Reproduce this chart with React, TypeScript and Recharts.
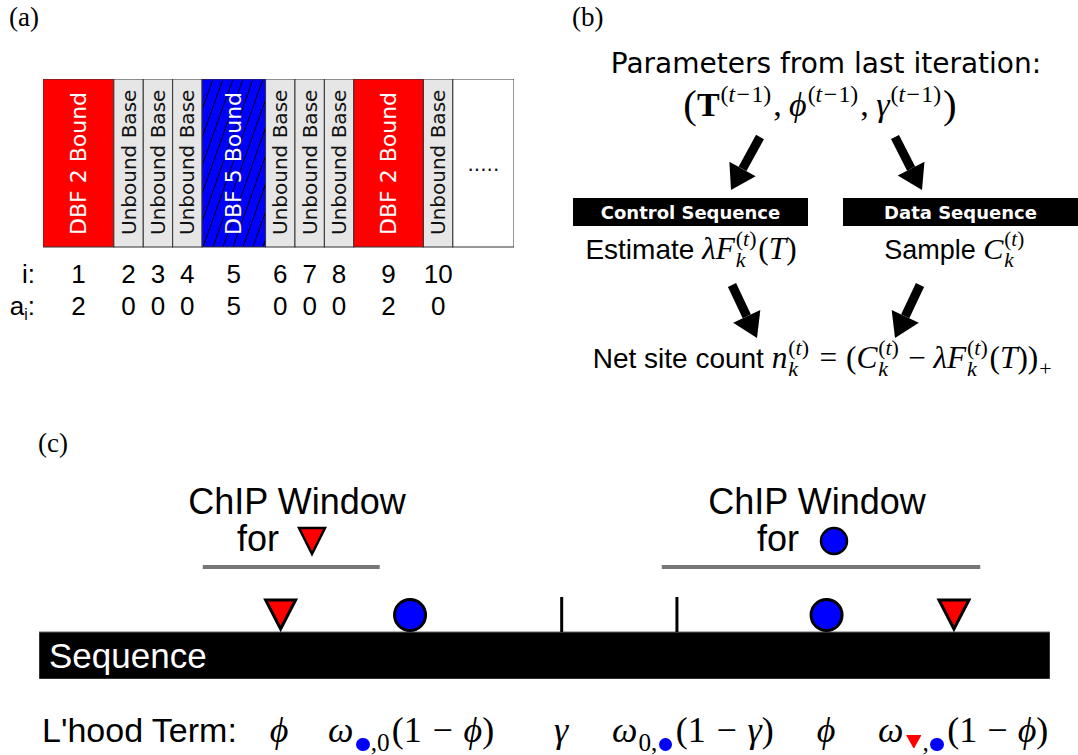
import React from "react";
import {
  BarChart,
  Bar,
  XAxis,
  YAxis,
  ScatterChart,
  Scatter,
  ReferenceArea,
  ReferenceLine,
} from "recharts";

const SANS = "'Liberation Sans', Arial, Helvetica, sans-serif";
const DEJAVU = "'DejaVu Sans', Verdana, sans-serif";
const SERIF = "'Liberation Serif', 'DejaVu Serif', 'Times New Roman', serif";

// (a) sequence strip, one segment per base (bound sites are wider)
const segmentKinds = ["dbf2", "unbound", "unbound", "unbound", "dbf5", "unbound", "unbound", "unbound", "dbf2", "unbound", "more"];
const segmentLabels = [
  "DBF 2 Bound", "Unbound Base", "Unbound Base", "Unbound Base", "DBF 5 Bound",
  "Unbound Base", "Unbound Base", "Unbound Base", "DBF 2 Bound", "Unbound Base", ".....",
];
const segmentWidths = [2.41, 1, 1, 1, 2.16, 1, 1, 1, 2.37, 1, 2.08];
const siteIndex = ["1", "2", "3", "4", "5", "6", "7", "8", "9", "10"];
const siteState = ["2", "0", "0", "0", "5", "0", "0", "0", "2", "0"];

// (b) flow arrows: tail and tip
const arrowTails = [[760, 137], [895, 137], [732, 285], [920, 285]];
const arrowTips = [[731, 190], [922, 190], [757, 338], [895, 338]];

// (c) positions along the sequence (0..1000)
const boundaryPositions = [517, 631];
const triangleSites = [239, 905];
const circleSites = [367, 779];
const chipWindows = [[162, 337], [616, 931]];

const segmentFill: Record<string, string> = {
  dbf2: "#ff0000",
  dbf5: "url(#hatch)",
  unbound: "#e6e6e6",
  more: "#ffffff",
};

const stripTotal = segmentWidths.reduce((a, b) => a + b, 0);
const stripRow: Record<string, any> = { name: "seq" };
segmentWidths.forEach((w, i) => (stripRow["s" + i] = w));
const siteCenters = siteIndex.map((_, i) => {
  const start = segmentWidths.slice(0, i).reduce((a, b) => a + b, 0);
  return start + segmentWidths[i] / 2;
});

function SegmentShape(props: any) {
  const { x, y, width, height, seg } = props;
  const kind = segmentKinds[seg];
  const cx = x + width / 2;
  const bound = kind === "dbf2" || kind === "dbf5";
  return (
    <g>
      <rect x={x} y={y} width={width} height={height} fill={segmentFill[kind]} stroke="#333" strokeWidth={1} />
      {kind === "more" ? (
        <text x={cx} y={y + height / 2 + 8} textAnchor="middle" fontFamily={DEJAVU} fontSize={20} fill="#111">
          {segmentLabels[seg]}
        </text>
      ) : (
        <text
          transform={`translate(${cx},${y + height - 12}) rotate(-90)`}
          dominantBaseline="central"
          fontFamily={DEJAVU}
          fontSize={bound ? 22 : 20}
          fill={bound ? "#fff" : "#111"}
        >
          {segmentLabels[seg]}
        </text>
      )}
    </g>
  );
}

function SiteTick(props: any) {
  const { x, y, payload } = props;
  const i = siteCenters.indexOf(payload.value);
  return (
    <g fontFamily={SANS} fontSize={26} fill="#000" textAnchor="middle">
      <text x={x} y={y + 36}>{siteIndex[i]}</text>
      <text x={x} y={y + 68}>{siteState[i]}</text>
    </g>
  );
}

function ArrowShape(props: any) {
  const { cx, cy, payload } = props;
  const { dx, dy } = payload;
  const len = Math.hypot(dx, dy);
  const ux = -dx / len;
  const uy = -dy / len;
  const px = -uy;
  const py = ux;
  const L = 24, W = 15, S = 4.5;
  const bx = cx - ux * L;
  const by = cy - uy * L;
  const tx = cx + dx;
  const ty = cy + dy;
  const shaft = [
    [tx + px * S, ty + py * S],
    [bx + px * S, by + py * S],
    [bx - px * S, by - py * S],
    [tx - px * S, ty - py * S],
  ];
  const head = [[bx + px * W, by + py * W], [cx, cy], [bx - px * W, by - py * W]];
  return (
    <g fill="#000">
      <polygon points={shaft.map((p) => p.join(",")).join(" ")} />
      <polygon points={head.map((p) => p.join(",")).join(" ")} />
    </g>
  );
}

function TriangleShape(props: any) {
  const { cx, cy } = props;
  return (
    <polygon
      points={`${cx - 15},${cy - 32} ${cx + 15},${cy - 32} ${cx},${cy - 3}`}
      fill="#ff0000"
      stroke="#000"
      strokeWidth={3}
    />
  );
}

function CircleShape(props: any) {
  const { cx, cy } = props;
  return <circle cx={cx} cy={cy - 17} r={15.5} fill="#0000ff" stroke="#000" strokeWidth={3} />;
}

// text helpers
function Txt({ x, y, size, font = SANS, align = "left", children, style }: any) {
  const shift = align === "center" ? "translateX(-50%)" : align === "right" ? "translateX(-100%)" : undefined;
  return (
    <div
      style={{
        position: "absolute",
        left: x,
        top: y - 0.845 * size,
        fontSize: size,
        fontFamily: font,
        lineHeight: 1,
        whiteSpace: "nowrap",
        transform: shift,
        color: "#000",
        ...style,
      }}
    >
      {children}
    </div>
  );
}

function Sc({ sup, sub }: { sup?: React.ReactNode; sub?: React.ReactNode }) {
  return (
    <span style={{ display: "inline-block", position: "relative", fontSize: "0.7em", lineHeight: 0, margin: "0 0.08em 0 0.04em" }}>
      {sup != null ? (
        <span style={{ position: "relative", top: "-0.6em" }}>{sup}</span>
      ) : (
        <span style={{ position: "relative", top: "0.37em" }}>{sub}</span>
      )}
      {sup != null && sub != null && (
        <span style={{ position: "absolute", left: 0, top: "0.37em", lineHeight: 0 }}>{sub}</span>
      )}
    </span>
  );
}

const M = ({ children }: any) => <span style={{ fontFamily: SERIF, fontSize: "1.12em" }}>{children}</span>;
const I = ({ children }: any) => <span style={{ fontStyle: "italic" }}>{children}</span>;
const Big = ({ children }: any) => (
  <span style={{ fontSize: "1.2em", lineHeight: 0, position: "relative", top: "0.04em" }}>{children}</span>
);
const Op = ({ children, w = 0.28 }: any) => <span style={{ margin: `0 ${w}em` }}>{children}</span>;
const Comma = () => <span style={{ marginRight: "0.22em" }}>,</span>;
const TM1 = () => (
  <>
    (<I>t</I>
    <span style={{ margin: "0 0.06em" }}>−</span>1)
  </>
);
const Tt = () => (
  <>
    (<I>t</I>)
  </>
);
const Dot = () => (
  <span
    style={{
      display: "inline-block",
      width: "0.55em",
      height: "0.55em",
      borderRadius: "50%",
      background: "#0000ff",
      verticalAlign: "-0.02em",
      margin: "0 0.05em",
    }}
  />
);
const Tri = () => (
  <svg width="0.62em" height="0.55em" viewBox="0 0 10 9" style={{ verticalAlign: "0.1em", margin: "0 0.05em" }}>
    <polygon points="0,0 10,0 5,9" fill="#ff0000" />
  </svg>
);

const PanelLabel = ({ x, y, text }: any) => (
  <Txt x={x} y={y} size={27} font={SERIF}>
    {text}
  </Txt>
);

export default function App() {
  return (
    <div
      style={{
        position: "absolute",
        left: 0,
        top: 0,
        width: 1078,
        height: 755,
        background: "#fff",
        overflow: "hidden",
      }}
    >
      <PanelLabel x={9} y={27} text="(a)" />
      <PanelLabel x={572} y={27} text="(b)" />
      <PanelLabel x={38} y={453} text="(c)" />

      {/* (a) sequence strip */}
      <div style={{ position: "absolute", left: 43, top: 79 }}>
        <BarChart
          width={471}
          height={243}
          layout="vertical"
          data={[stripRow]}
          margin={{ top: 0, right: 0, bottom: 0, left: 0 }}
          barCategoryGap={0}
          barGap={0}
        >
          <defs>
            <pattern id="hatch" width="10" height="28" patternUnits="userSpaceOnUse">
              <rect width="10" height="28" fill="#0000ff" />
              <line x1="0" y1="28" x2="10" y2="0" stroke="#000" strokeWidth={1} />
            </pattern>
          </defs>
          <XAxis
            type="number"
            domain={[0, stripTotal]}
            ticks={siteCenters}
            interval={0}
            height={75}
            axisLine={false}
            tickLine={false}
            tickSize={0}
            tickMargin={0}
            tick={<SiteTick />}
          />
          <YAxis type="category" dataKey="name" hide />
          {segmentWidths.map((_, i) => (
            <Bar
              key={i}
              dataKey={"s" + i}
              stackId="strip"
              isAnimationActive={false}
              shape={(p: any) => <SegmentShape {...p} seg={i} />}
            />
          ))}
        </BarChart>
      </div>
      <Txt x={35} y={283} size={26} align="right">
        i:
      </Txt>
      <Txt x={35} y={315} size={26} align="right">
        a<span style={{ fontSize: "0.6em", position: "relative", top: "0.35em", lineHeight: 0 }}>i</span>:
      </Txt>

      {/* (b) flow */}
      <Txt x={826} y={74} size={28} font={DEJAVU} align="center">
        Parameters from last iteration:
      </Txt>
      <Txt x={820} y={117} size={34} font={SERIF} align="center">
        <Big>(</Big>
        <b>T</b>
        <Sc sup={<TM1 />} />
        <Comma />
        <I>ϕ</I>
        <Sc sup={<TM1 />} />
        <Comma />
        <I>γ</I>
        <Sc sup={<TM1 />} />
        <Big>)</Big>
      </Txt>
      {[
        { left: 573, text: "Control Sequence" },
        { left: 843, text: "Data Sequence" },
      ].map((b) => (
        <div
          key={b.text}
          style={{
            position: "absolute",
            left: b.left,
            top: 198,
            width: 235,
            height: 28,
            background: "#000",
            color: "#fff",
            fontFamily: DEJAVU,
            fontWeight: "bold",
            fontSize: 18,
            display: "flex",
            alignItems: "center",
            justifyContent: "center",
          }}
        >
          {b.text}
        </div>
      ))}
      <Txt x={691} y={257} size={28} align="center">
        Estimate{" "}
        <M>
          <I>λF</I>
          <Sc sup={<Tt />} sub={<I>k</I>} />
          (<I>T</I>)
        </M>
      </Txt>
      <Txt x={955} y={257} size={27} align="center">
        Sample{" "}
        <M>
          <I>C</I>
          <Sc sup={<Tt />} sub={<I>k</I>} />
        </M>
      </Txt>
      <Txt x={823} y={366} size={28} align="center">
        Net site count{" "}
        <M>
          <I>n</I>
          <Sc sup={<Tt />} sub={<I>k</I>} />
          <Op>=</Op>(<I>C</I>
          <Sc sup={<Tt />} sub={<I>k</I>} />
          <Op w={0.24}>−</Op>
          <I>λF</I>
          <Sc sup={<Tt />} sub={<I>k</I>} />
          (<I>T</I>))
          <Sc sub="+" />
        </M>
      </Txt>
      <div style={{ position: "absolute", left: 700, top: 120 }}>
        <ScatterChart width={260} height={240} margin={{ top: 0, right: 0, bottom: 0, left: 0 }}>
          <XAxis type="number" dataKey="x" domain={[700, 960]} hide />
          <YAxis type="number" dataKey="y" domain={[120, 360]} reversed hide />
          <Scatter
            data={arrowTips.map(([x, y], i) => ({ x, y, dx: arrowTails[i][0] - x, dy: arrowTails[i][1] - y }))}
            shape={<ArrowShape />}
            isAnimationActive={false}
          />
        </ScatterChart>
      </div>

      {/* (c) sequence with sites */}
      <Txt x={297} y={514} size={36} align="center">
        ChIP Window
      </Txt>
      <Txt x={237} y={551} size={36}>
        for
      </Txt>
      <svg style={{ position: "absolute", left: 296, top: 524 }} width={32} height={34}>
        <polygon points="3,4 29,4 16,30" fill="#ff0000" stroke="#000" strokeWidth={2.5} />
      </svg>
      <Txt x={817} y={514} size={36} align="center">
        ChIP Window
      </Txt>
      <Txt x={757} y={551} size={36}>
        for
      </Txt>
      <svg style={{ position: "absolute", left: 818, top: 525 }} width={32} height={32}>
        <circle cx={16} cy={16} r={13} fill="#0000ff" stroke="#000" strokeWidth={2.5} />
      </svg>

      <div style={{ position: "absolute", left: 39, top: 462 }}>
        <ScatterChart width={1011} height={217} margin={{ top: 0, right: 0, bottom: 0, left: 0 }}>
          <XAxis type="number" dataKey="x" domain={[0, 1000]} hide />
          <YAxis type="number" dataKey="y" domain={[-47, 170]} hide />
          <ReferenceArea
            x1={0}
            x2={1000}
            y1={-47}
            y2={0}
            fill="#000"
            fillOpacity={1}
            stroke="#666"
            strokeWidth={1}
            label={{ value: "Sequence", position: "insideLeft", offset: 10, fill: "#fff", fontSize: 35, fontFamily: SANS }}
          />
          {boundaryPositions.map((b) => (
            <ReferenceLine key={b} segment={[{ x: b, y: 0 }, { x: b, y: 35 }]} stroke="#000" strokeWidth={3} />
          ))}
          {chipWindows.map(([a, b]) => (
            <ReferenceLine key={a} segment={[{ x: a, y: 65 }, { x: b, y: 65 }]} stroke="#777" strokeWidth={4} />
          ))}
          <Scatter data={triangleSites.map((x) => ({ x, y: 0 }))} shape={<TriangleShape />} isAnimationActive={false} />
          <Scatter data={circleSites.map((x) => ({ x, y: 0 }))} shape={<CircleShape />} isAnimationActive={false} />
        </ScatterChart>
      </div>

      <Txt x={42} y={742} size={34}>
        L'hood Term:
      </Txt>
      <Txt x={279} y={742} size={36} font={SERIF} align="center">
        <I>ϕ</I>
      </Txt>
      <Txt x={328} y={742} size={36} font={SERIF}>
        <I>ω</I>
        <Sc sub={<>
          <Dot />,0
        </>} />
        (1<Op w={0.3}>−</Op>
        <I>ϕ</I>)
      </Txt>
      <Txt x={561} y={742} size={36} font={SERIF} align="center">
        <I>γ</I>
      </Txt>
      <Txt x={612} y={742} size={36} font={SERIF}>
        <I>ω</I>
        <Sc sub={<>
          0,<Dot />
        </>} />
        (1<Op w={0.3}>−</Op>
        <I>γ</I>)
      </Txt>
      <Txt x={826} y={742} size={36} font={SERIF} align="center">
        <I>ϕ</I>
      </Txt>
      <Txt x={878} y={742} size={36} font={SERIF}>
        <I>ω</I>
        <Sc sub={<>
          <Tri />,<Dot />
        </>} />
        (1<Op w={0.28}>−</Op>
        <I>ϕ</I>)
      </Txt>
    </div>
  );
}
